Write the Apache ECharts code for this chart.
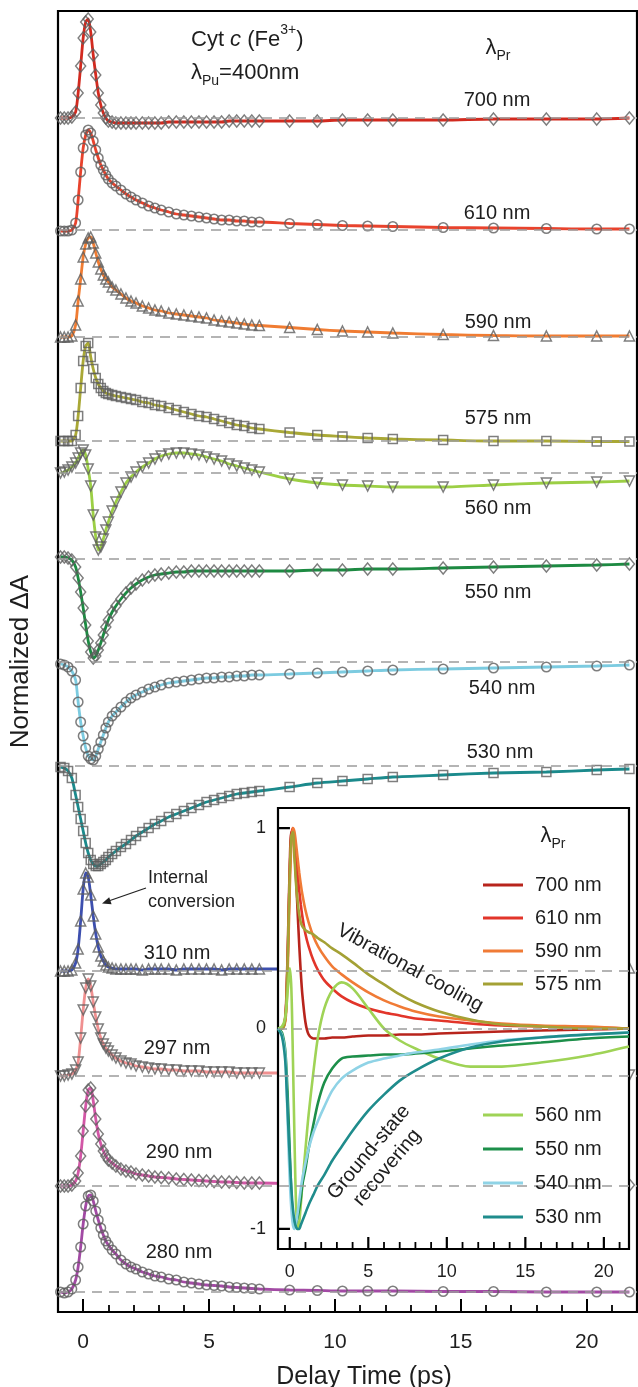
<!DOCTYPE html>
<html><head><meta charset="utf-8">
<script src="https://cdn.jsdelivr.net/npm/echarts@6/dist/echarts.min.js"></script>
<style>html,body{margin:0;padding:0;background:#fff}#c{width:638px;height:1387px}</style>
</head><body><div id="c"></div>
<script>
// ---------- DATA ----------
// delay times (ps) of the measured points in the main panel
const T = [-0.9,-0.75,-0.6,-0.45,-0.3,-0.2,-0.1,
  0,0.1,0.2,0.3,0.4,0.5,0.6,0.7,0.8,0.9,
  1.0,1.15,1.3,1.5,1.7,1.9,2.1,2.35,2.6,2.85,
  3.1,3.4,3.7,4.0,4.3,4.6,4.9,5.2,5.5,5.8,
  6.1,6.4,6.7,7.0,
  8.2,9.3,10.3,11.3,12.3,14.3,16.3,18.4,20.4,21.7];

const probes = ['700 nm','610 nm','590 nm','575 nm','560 nm','550 nm','540 nm','530 nm','310 nm','297 nm','290 nm','280 nm'];
// vertical offset (baseline) of each stacked trace, in normalized ΔA units
const offsets = [11.94, 10.82, 9.75, 8.71, 8.39, 7.53, 6.50, 5.46, 3.41, 2.36, 1.26, 0.20];

const v700 = [0,0,0,0.01,0.06,0.25,0.52,
  0.80,0.96,0.99,0.86,0.63,0.43,0.25,0.13,0.05,0,
  -0.03,-0.04,-0.05,-0.05,-0.05,-0.05,-0.05,-0.05,-0.05,-0.05,
  -0.05,-0.04,-0.04,-0.04,-0.04,-0.04,-0.04,-0.04,-0.04,-0.03,
  -0.03,-0.03,-0.03,-0.03,
  -0.03,-0.03,-0.02,-0.02,-0.02,-0.02,-0.01,-0.01,-0.01,0];
const v610 = [-0.01,-0.01,-0.01,0,0.07,0.30,0.58,
  0.82,0.95,1.00,0.97,0.89,0.80,0.72,0.65,0.60,0.55,
  0.51,0.47,0.44,0.40,0.36,0.33,0.30,0.27,0.24,0.22,
  0.20,0.18,0.16,0.15,0.14,0.13,0.12,0.11,0.10,0.10,
  0.09,0.09,0.08,0.08,
  0.065,0.055,0.045,0.04,0.035,0.025,0.02,0.015,0.01,0.01];
const v590 = [0,0,0,0.01,0.12,0.36,0.58,
  0.80,0.93,0.99,1.00,0.94,0.84,0.75,0.68,0.62,0.58,
  0.55,0.50,0.47,0.43,0.39,0.36,0.34,0.31,0.29,0.27,
  0.26,0.24,0.23,0.22,0.21,0.20,0.19,0.17,0.16,0.15,
  0.14,0.13,0.12,0.115,
  0.095,0.075,0.06,0.05,0.04,0.025,0.015,0.01,0.01,0.01];
const v575 = [0,0,0,0,0.06,0.25,0.53,
  0.80,0.95,0.98,0.84,0.72,0.63,0.57,0.53,0.50,0.48,
  0.47,0.46,0.45,0.44,0.43,0.42,0.41,0.39,0.38,0.36,
  0.35,0.33,0.31,0.29,0.27,0.25,0.24,0.22,0.20,0.18,
  0.16,0.15,0.13,0.12,
  0.085,0.06,0.045,0.03,0.02,0.01,0,0,-0.005,-0.005];
const v560 = [0,0.01,0.03,0.06,0.10,0.15,0.20,
  0.23,0.18,0.04,-0.13,-0.42,-0.64,-0.77,-0.74,-0.66,-0.57,
  -0.49,-0.38,-0.29,-0.19,-0.10,-0.04,0.01,0.06,0.10,0.14,
  0.17,0.19,0.20,0.20,0.19,0.18,0.16,0.14,0.12,0.09,
  0.07,0.05,0.03,0.01,
  -0.06,-0.10,-0.12,-0.13,-0.14,-0.14,-0.12,-0.10,-0.09,-0.08];
const v550 = [0.02,0.02,0.01,-0.01,-0.08,-0.19,-0.33,
  -0.49,-0.66,-0.82,-0.93,-0.99,-0.97,-0.91,-0.84,-0.76,-0.68,
  -0.61,-0.53,-0.47,-0.40,-0.34,-0.29,-0.25,-0.21,-0.18,-0.16,
  -0.15,-0.14,-0.13,-0.13,-0.12,-0.12,-0.12,-0.12,-0.12,-0.12,
  -0.12,-0.12,-0.12,-0.12,
  -0.12,-0.11,-0.11,-0.10,-0.10,-0.09,-0.08,-0.07,-0.06,-0.05];
const v540 = [-0.02,-0.03,-0.05,-0.09,-0.18,-0.40,-0.60,
  -0.74,-0.86,-0.94,-0.97,-0.98,-0.94,-0.87,-0.80,-0.73,-0.66,
  -0.60,-0.54,-0.50,-0.45,-0.40,-0.36,-0.33,-0.30,-0.27,-0.25,
  -0.23,-0.21,-0.20,-0.19,-0.18,-0.17,-0.16,-0.16,-0.15,-0.15,
  -0.14,-0.14,-0.13,-0.13,
  -0.12,-0.11,-0.10,-0.09,-0.08,-0.07,-0.06,-0.05,-0.04,-0.03];
const v530 = [-0.01,-0.02,-0.05,-0.12,-0.29,-0.41,-0.53,
  -0.65,-0.77,-0.87,-0.94,-0.98,-1.00,-1.00,-0.98,-0.96,-0.94,
  -0.91,-0.88,-0.85,-0.81,-0.78,-0.74,-0.70,-0.66,-0.62,-0.58,
  -0.55,-0.51,-0.48,-0.45,-0.42,-0.39,-0.36,-0.34,-0.32,-0.30,
  -0.28,-0.27,-0.26,-0.25,
  -0.21,-0.17,-0.15,-0.13,-0.11,-0.09,-0.07,-0.06,-0.04,-0.03];
const v310 = [0,0,0,0.01,0.08,0.22,0.50,
  0.82,0.98,0.94,0.76,0.55,0.37,0.24,0.15,0.10,0.06,
  0.04,0.03,0.02,0.02,0.02,0.02,0.02,0.01,0.02,0.02,
  0.02,0.02,0.01,0.02,0.02,0.02,0.02,0.02,0.01,0.02,
  0.02,0.02,0.02,0.02,
  0.02,0.02,0.02,0.03,0.02,0.02,0.02,0.03,0.03,0.03];
const v297 = [0,0,0.01,0.02,0.06,0.14,0.38,
  0.66,0.88,0.97,0.90,0.74,0.59,0.47,0.38,0.32,0.28,
  0.25,0.21,0.18,0.15,0.13,0.12,0.10,0.09,0.08,0.07,
  0.07,0.06,0.06,0.05,0.05,0.05,0.04,0.04,0.04,0.04,
  0.03,0.03,0.03,0.03,
  0.03,0.02,0.02,0.02,0.02,0.02,0.01,0.01,0.01,0.01];
const v290 = [0,0,0,0.01,0.05,0.13,0.30,
  0.55,0.80,0.96,0.98,0.85,0.67,0.52,0.42,0.35,0.30,
  0.26,0.23,0.20,0.17,0.15,0.14,0.12,0.11,0.10,0.09,
  0.085,0.08,0.07,0.065,0.06,0.055,0.05,0.045,0.04,0.04,
  0.035,0.03,0.03,0.03,
  0.025,0.02,0.02,0.02,0.015,0.01,0.01,0.01,0.01,0.01];
const v280 = [0,-0.01,0,0.03,0.12,0.25,0.45,
  0.68,0.86,0.96,0.97,0.91,0.81,0.72,0.64,0.57,0.51,
  0.47,0.42,0.38,0.32,0.28,0.25,0.23,0.20,0.18,0.16,
  0.15,0.13,0.12,0.10,0.09,0.08,0.07,0.065,0.06,0.05,
  0.045,0.04,0.035,0.03,
  0.02,0.015,0.01,0.01,0.01,0.005,0.005,0,0,0];

// inset: normalized fitted kinetics
const TI = [-0.75,-0.5,-0.3,-0.2,-0.1,0,0.1,0.2,
  0.3,0.4,0.5,0.6,0.7,0.8,1.0,1.2,
  1.5,1.8,2.2,2.7,3.3,4,5,6,
  7,8,9.5,11.5,13.5,16,19,21.6];
const insetNames = ['700 nm','610 nm','590 nm','575 nm','560 nm','550 nm','540 nm','530 nm'];
const i700 = [0,0,0.05,0.2,0.5,0.82,0.98,0.98,
  0.88,0.75,0.58,0.42,0.28,0.17,0.03,-0.03,
  -0.05,-0.05,-0.05,-0.045,-0.045,-0.04,-0.035,-0.035,
  -0.03,-0.03,-0.025,-0.02,-0.015,-0.01,-0.005,0];
const i610 = [0,0,0.04,0.17,0.45,0.78,0.96,1.0,
  0.95,0.86,0.77,0.69,0.62,0.56,0.47,0.41,
  0.34,0.29,0.24,0.2,0.16,0.13,0.1,0.08,
  0.065,0.05,0.04,0.025,0.015,0.01,0.005,0];
const i590 = [0,0,0.03,0.13,0.38,0.7,0.92,1.0,
  0.98,0.92,0.85,0.78,0.72,0.67,0.59,0.53,
  0.46,0.41,0.36,0.31,0.27,0.23,0.18,0.14,
  0.11,0.085,0.06,0.04,0.025,0.015,0.01,0];
const i575 = [0,0,0.04,0.17,0.45,0.78,0.96,0.98,
  0.85,0.72,0.63,0.57,0.53,0.51,0.49,0.48,
  0.47,0.45,0.43,0.4,0.37,0.33,0.27,0.22,
  0.17,0.13,0.085,0.045,0.02,0.01,0,0];
const i560 = [0,0.01,0.05,0.12,0.22,0.3,0.2,-0.15,
  -0.55,-0.88,-1.0,-0.97,-0.88,-0.78,-0.6,-0.43,
  -0.22,-0.04,0.1,0.19,0.23,0.2,0.1,0,
  -0.06,-0.1,-0.15,-0.19,-0.19,-0.17,-0.135,-0.09];
const i550 = [0,-0.02,-0.1,-0.22,-0.4,-0.62,-0.82,-0.95,
  -0.99,-0.97,-0.94,-0.9,-0.85,-0.78,-0.7,-0.6,
  -0.48,-0.37,-0.27,-0.2,-0.15,-0.14,-0.135,-0.13,
  -0.13,-0.125,-0.115,-0.1,-0.085,-0.07,-0.05,-0.04];
const i540 = [0,-0.03,-0.12,-0.3,-0.55,-0.76,-0.9,-0.98,
  -1.0,-0.97,-0.92,-0.86,-0.8,-0.75,-0.67,-0.6,
  -0.52,-0.46,-0.39,-0.31,-0.25,-0.21,-0.17,-0.15,
  -0.135,-0.12,-0.105,-0.08,-0.06,-0.045,-0.03,-0.02];
const i530 = [0,-0.04,-0.15,-0.3,-0.48,-0.65,-0.8,-0.9,
  -0.96,-0.99,-1.0,-1.0,-0.98,-0.96,-0.92,-0.88,
  -0.83,-0.78,-0.73,-0.66,-0.59,-0.51,-0.41,-0.33,
  -0.26,-0.21,-0.15,-0.095,-0.065,-0.045,-0.03,-0.02];

const mainTicks = [0,5,10,15,20];
const mainMinor = [1,2,3,4,6,7,8,9,11,12,13,14,16,17,18,19,21];
const insetTicks = [0,5,10,15,20];
const insetMinor = [1,2,3,4,6,7,8,9,11,12,13,14,16,17,18,19,21];
const insetYTicks = [-1,1];
const insetYLabels = [-1,0,1];
const INSET_X = [-0.75, 21.6];
const INSET_Y = [-1.1, 1.1];

// ---------- STYLE ----------
const FONT = 'Liberation Sans, Arial, Helvetica, sans-serif';
const TXT = '#1e1e1e';
const mainColors = ['#d22a1f','#e8432d','#f07c32','#a9a836','#9ccf45','#1d8a42','#7ccbe0','#1b8a8c','#3d4fae','#f09090','#d257a6','#a24aa4'];
const insetColors = ['#b8241c','#e2352a','#f07b36','#a4a135','#9fd356','#1d8f4a','#8fd3e6','#1f8c8c'];
const mainSym = ['diamond','circle','triangle','rect','triangle','diamond','circle','rect','triangle','triangle','diamond','circle'];
const mainRot = [0,0,0,0,180,0,0,0,0,180,0,0];
const symSize = {diamond:[10,12], circle:9.5, triangle:10, rect:9};
// tick lengths expressed in inset data units (≈12 px and ≈7 px)
const TICK_MAJ_Y = 0.06, TICK_MIN_Y = 0.035, TICK_MAJ_X = 0.76;

const mainVals = [v700,v610,v590,v575,v560,v550,v540,v530,v310,v297,v290,v280];
const insetVals = [i700,i610,i590,i575,i560,i550,i540,i530];

const series = [];
mainVals.forEach((vals, i) => {
  const data = T.map((t, j) => [t, vals[j] + offsets[i]]);
  series.push({
    type: 'scatter', name: 'pts ' + probes[i], xAxisIndex: 0, yAxisIndex: 0,
    data, symbol: mainSym[i], symbolRotate: mainRot[i], symbolSize: symSize[mainSym[i]],
    itemStyle: {color: 'rgba(0,0,0,0)', borderColor: '#5e5e5e', borderWidth: 1.5},
    z: 1, silent: true, animation: false,
    markLine: {silent: true, symbol: 'none', animation: false, label: {show: false},
      lineStyle: {color: '#9c9c9c', type: [10, 7], width: 1.6},
      data: [{yAxis: offsets[i]}]}
  });
  series.push({
    type: 'line', name: 'fit ' + probes[i], xAxisIndex: 0, yAxisIndex: 0,
    data, showSymbol: false, smooth: 0.25, color: mainColors[i],
    lineStyle: {color: mainColors[i], width: 2.8}, z: 1, silent: true, animation: false
  });
});
insetVals.forEach((vals, i) => {
  const s = {
    type: 'line', name: insetNames[i], xAxisIndex: 2, yAxisIndex: 1,
    data: TI.map((t, j) => [t, vals[j]]), showSymbol: false, smooth: 0.3,
    color: insetColors[i], lineStyle: {color: insetColors[i], width: 2.6},
    z: 4, silent: true, animation: false
  };
  if (i === 0) s.markLine = {silent: true, symbol: 'none', animation: false, label: {show: false},
      lineStyle: {color: '#9c9c9c', type: [9, 6], width: 1.5}, data: [{yAxis: 0}]};
  series.push(s);
});
// inset tick marks drawn as tiny segments through the inset scales
function tickSeries(data, w) {
  return {type: 'line', name: 'tick', xAxisIndex: 2, yAxisIndex: 1, data: data, showSymbol: false,
    color: '#000', lineStyle: {color: '#000', width: w}, z: 6, silent: true, animation: false, clip: false};
}
insetTicks.forEach(v => series.push(tickSeries([[v, INSET_Y[0]], [v, INSET_Y[0] + TICK_MAJ_Y]], 2.2)));
insetMinor.forEach(v => series.push(tickSeries([[v, INSET_Y[0]], [v, INSET_Y[0] + TICK_MIN_Y]], 1.8)));
insetYTicks.forEach(v => series.push(tickSeries([[INSET_X[0], v], [INSET_X[0] + TICK_MAJ_X, v]], 2.2)));

function txt(x, y, text, o) {
  o = o || {};
  return {type: 'text', x: x, y: y, rotation: o.rot || 0, z: 20, silent: true,
    style: Object.assign({text: text, fill: TXT, fontFamily: FONT, fontSize: o.size || 20,
      align: o.align || 'center', verticalAlign: 'middle'}, o.style || {})};
}
const traceLabels = [
  ['700 nm', 497, 100], ['610 nm', 497, 213], ['590 nm', 498, 322], ['575 nm', 498, 418],
  ['560 nm', 498, 508], ['550 nm', 498, 592], ['540 nm', 502, 688], ['530 nm', 500, 752],
  ['310 nm', 177, 953], ['297 nm', 177, 1048], ['290 nm', 179, 1152], ['280 nm', 179, 1252]
];
// white panel behind the inset (layout only)
const graphics = [{type: 'rect', z: 2, silent: true, shape: {x: 278, y: 808, width: 351, height: 441},
  style: {fill: '#fff', stroke: '#000', lineWidth: 2.2}}];
traceLabels.forEach(l => graphics.push(txt(l[1], l[2], l[0])));
graphics.push({type: 'text', x: 191, y: 37, z: 20, silent: true, style: {
  text: '{n|Cyt }{i|c}{n| (Fe}{s|3+}{n|)}', align: 'left', verticalAlign: 'middle',
  rich: {n: {fontSize: 22, fontFamily: FONT, fill: TXT, lineHeight: 28, verticalAlign: 'bottom'},
         i: {fontSize: 22, fontFamily: FONT, fill: TXT, fontStyle: 'italic', lineHeight: 28, verticalAlign: 'bottom'},
         s: {fontSize: 14, fontFamily: FONT, fill: TXT, lineHeight: 14, verticalAlign: 'top'}}}});
graphics.push({type: 'text', x: 191, y: 75, z: 20, silent: true, style: {
  text: '{n|λ}{b|Pu}{n|=400nm}', align: 'left', verticalAlign: 'middle',
  rich: {n: {fontSize: 22, fontFamily: FONT, fill: TXT, lineHeight: 26, verticalAlign: 'top'},
         b: {fontSize: 14, fontFamily: FONT, fill: TXT, lineHeight: 14, verticalAlign: 'bottom'}}}});
function lamPr(x, y) {
  return {type: 'text', x: x, y: y, z: 20, silent: true, style: {
    text: '{n|λ}{b|Pr}', align: 'center', verticalAlign: 'middle',
    rich: {n: {fontSize: 22, fontFamily: FONT, fill: TXT, lineHeight: 26, verticalAlign: 'top'},
           b: {fontSize: 14, fontFamily: FONT, fill: TXT, lineHeight: 14, verticalAlign: 'bottom'}}}};
}
graphics.push(lamPr(498, 50));
graphics.push(lamPr(553, 838));
graphics.push(txt(148, 878, 'Internal', {align: 'left', size: 18}));
graphics.push(txt(148, 902, 'conversion', {align: 'left', size: 18}));
graphics.push({type: 'line', z: 20, silent: true, shape: {x1: 146, y1: 888, x2: 110, y2: 900.5},
  style: {stroke: '#222', lineWidth: 1.3}});
graphics.push({type: 'polygon', z: 20, silent: true,
  shape: {points: [[102, 903.5], [111.6, 904.2], [109.2, 897.2]]}, style: {fill: '#222'}});
graphics.push(txt(410, 968, 'Vibrational cooling', {rot: -0.5, size: 20}));
graphics.push(txt(378, 1160, 'Ground-state\nrecovering', {rot: 0.87, size: 20, style: {lineHeight: 24}}));
graphics.push(txt(364, 1377, 'Delay Time (ps)', {size: 25}));

const axisFont = {fontFamily: FONT, color: TXT};
const option = {
  backgroundColor: '#fff',
  animation: false,
  grid: [
    {left: 57, right: 1, top: 11, bottom: 75, show: true, borderColor: '#000', borderWidth: 2.2},
    {left: 278, right: 9, top: 808, bottom: 138, show: false}
  ],
  xAxis: [
    {type: 'value', gridIndex: 0, min: -1, max: 22, position: 'bottom',
     axisLine: {show: true, onZero: false, lineStyle: {color: '#000', width: 2.2}},
     axisTick: {show: true, inside: true, length: 13, customValues: mainTicks, lineStyle: {color: '#000', width: 2}},
     axisLabel: {show: true, customValues: mainTicks, margin: 20, fontSize: 21, ...axisFont},
     splitLine: {show: false}},
    {type: 'value', gridIndex: 0, min: -1, max: 22, position: 'bottom',
     axisLine: {show: false, onZero: false},
     axisTick: {show: true, inside: true, length: 7, customValues: mainMinor, lineStyle: {color: '#000', width: 1.8}},
     axisLabel: {show: false}, splitLine: {show: false}},
    {type: 'value', gridIndex: 1, min: INSET_X[0], max: INSET_X[1], position: 'bottom',
     axisLine: {show: false, onZero: false}, axisTick: {show: false},
     axisLabel: {show: true, customValues: insetTicks, margin: 14, fontSize: 18, ...axisFont},
     splitLine: {show: false}}
  ],
  yAxis: [
    {type: 'value', gridIndex: 0, min: 0, max: 13.01, position: 'left',
     name: 'Normalized ΔA', nameLocation: 'middle', nameGap: 24,
     nameTextStyle: {fontSize: 26, fontFamily: FONT, color: TXT},
     axisLine: {show: false, onZero: false}, axisTick: {show: false}, axisLabel: {show: false}, splitLine: {show: false}},
    {type: 'value', gridIndex: 1, min: INSET_Y[0], max: INSET_Y[1], position: 'left',
     axisLine: {show: false, onZero: false}, axisTick: {show: false},
     axisLabel: {show: true, customValues: insetYLabels, margin: 12, fontSize: 18, ...axisFont},
     splitLine: {show: false}}
  ],
  legend: [
    {data: insetNames.slice(0, 4), orient: 'vertical', left: 478, top: 870, itemWidth: 40, itemHeight: 3,
     itemGap: 13, icon: 'rect', selectedMode: false, z: 6,
     textStyle: {fontSize: 20, lineHeight: 20, fontFamily: FONT, color: TXT, padding: [0, 0, 0, 7]}},
    {data: insetNames.slice(4), orient: 'vertical', left: 478, top: 1100, itemWidth: 40, itemHeight: 3,
     itemGap: 14, icon: 'rect', selectedMode: false, z: 6,
     textStyle: {fontSize: 20, lineHeight: 20, fontFamily: FONT, color: TXT, padding: [0, 0, 0, 7]}}
  ],
  series: series,
  graphic: graphics
};
const chart = echarts.init(document.getElementById('c'), null, {renderer: 'canvas'});
chart.setOption(option);
</script></body></html>
